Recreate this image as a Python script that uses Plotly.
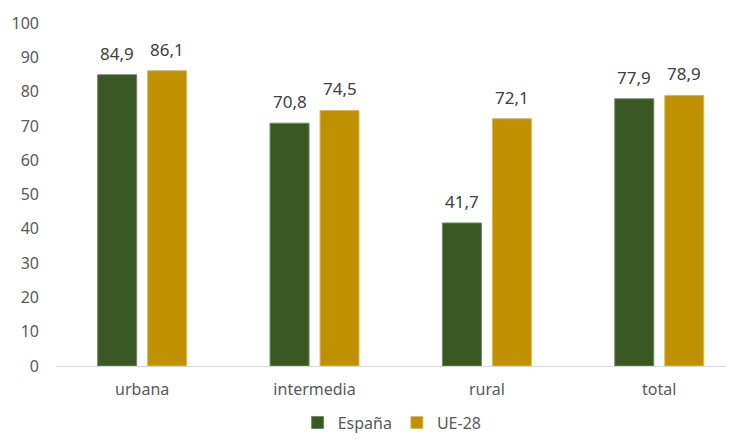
import plotly.graph_objects as go

categories = ["urbana", "intermedia", "rural", "total"]
espana = [84.9, 70.8, 41.7, 77.9]
ue28 = [86.1, 74.5, 72.1, 78.9]
series_names = ["España", "UE-28"]
y_ticks = [0, 10, 20, 30, 40, 50, 60, 70, 80, 90, 100]

def fmt(v):
    return f"{v:.1f}".replace(".", ",")

FONT = "Noto Sans"
TXT = "#595959"
colors = ["#385723", "#BF9000"]
borders = ["#6E8A5E", "#D9B95A"]

fig = go.Figure()
for name, vals, c, b in zip(series_names, [espana, ue28], colors, borders):
    fig.add_trace(go.Bar(
        x=categories, y=vals, name=name,
        marker=dict(color=c, line=dict(color=b, width=1)),
        cliponaxis=False,
    ))

# data labels above bars
for vals, shift in zip([espana, ue28], [-25, 25]):
    for cat, v in zip(categories, vals):
        fig.add_annotation(
            x=cat, y=v, xref="x", yref="y", text=fmt(v), showarrow=False,
            xanchor="center", yanchor="bottom", xshift=shift, yshift=8,
            font=dict(family=FONT, size=17, color="#404040"),
        )

fig.update_layout(
    width=734, height=439,
    margin=dict(l=48, r=0, t=15, b=81),
    paper_bgcolor="white", plot_bgcolor="white",
    barmode="group", bargap=0.42, bargroupgap=0.22,
    font=dict(family=FONT, color=TXT, size=16),
    showlegend=True,
    legend=dict(orientation="h", x=0.49, xanchor="center", y=-0.165, yanchor="middle",
                font=dict(family=FONT, size=16, color=TXT), traceorder="normal",
                itemwidth=30, tracegroupgap=0),
    xaxis=dict(range=[-0.5, 3.48], showline=True, linecolor="#D9D9D9", linewidth=1,
               tickfont=dict(family=FONT, size=16, color=TXT), ticks="",
               ticklabelstandoff=9, automargin=False, fixedrange=True),
    yaxis=dict(range=[0, 100], tickvals=y_ticks, showgrid=False, zeroline=False,
               tickfont=dict(family=FONT, size=16, color=TXT), ticklabelstandoff=16,
               automargin=False),
)

fig.write_html("out.html")
